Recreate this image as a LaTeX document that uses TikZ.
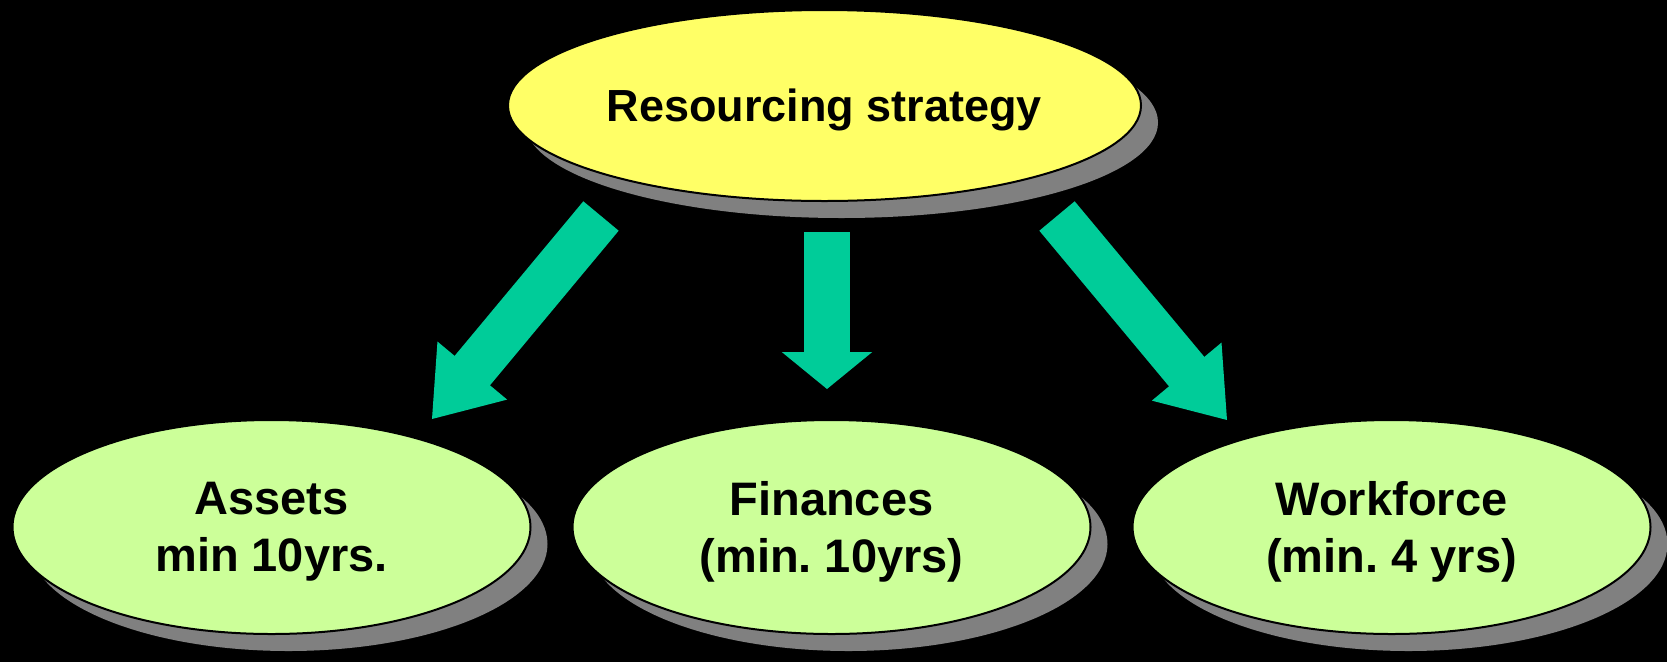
\documentclass[tikz,border=0pt]{standalone}
\usepackage{fontspec}
\setmainfont{Liberation Sans}
\usepackage{tikz}
\usetikzlibrary{shapes,arrows.meta,shadows}
\definecolor{stratyellow}{HTML}{FFFF66}
\definecolor{areagreen}{HTML}{CCFF99}
\definecolor{flowgreen}{HTML}{00CC99}
\definecolor{shadowgray}{HTML}{808080}

\begin{document}
\begin{tikzpicture}[
			x=1pt, y=-1pt,
			oval/.style={ellipse, draw=black, line width=2pt, align=center, inner sep=0pt, text depth=0pt,
				drop shadow={shadow xshift=17pt, shadow yshift=-17pt, fill=shadowgray, opacity=1}},
			strategy/.style={oval, fill=stratyellow, minimum width=633pt, minimum height=191pt, font=\fontsize{45}{54}\selectfont\bfseries},
			area/.style={oval, fill=areagreen, minimum width=518pt, minimum height=214pt, font=\fontsize{47}{57}\selectfont\bfseries},
			flow/.style={draw=flowgreen, line width=46pt, -{Triangle[width=90pt, length=#1, line width=3pt]}}
			]
			
			% Black page
			\fill[black] (0,0) rectangle (1667,662);
			\useasboundingbox (0,0) rectangle (1667,662);
			
			% Top - the strategy
			\node[strategy] (strat) at (824.5,105.5) {Resourcing strategy};
			
			% Bottom - the three areas
			\node[area] (assets) at (271.5,527) {Assets\\min 10yrs.};
			\node[area] (fin) at (831.5,527) {Finances\\(min.\ 10yrs)};
			\node[area] (work) at (1391.5,527) {Workforce\\(min.\ 4 yrs)};
			
			% Arrow ends
			\coordinate (assets-from) at (601,216);
			\coordinate (assets-to) at (432,419);
			\coordinate (fin-from) at (827,232);
			\coordinate (fin-to) at (827,389);
			\coordinate (work-from) at (1057,216);
			\coordinate (work-to) at (1227,420);
			
			% Block arrows
			\draw[flow=63pt] (assets-from) -- (assets-to);
			\draw[flow=37pt] (fin-from) -- (fin-to);
			\draw[flow=63pt] (work-from) -- (work-to);
			
		\end{tikzpicture}
\end{document}
